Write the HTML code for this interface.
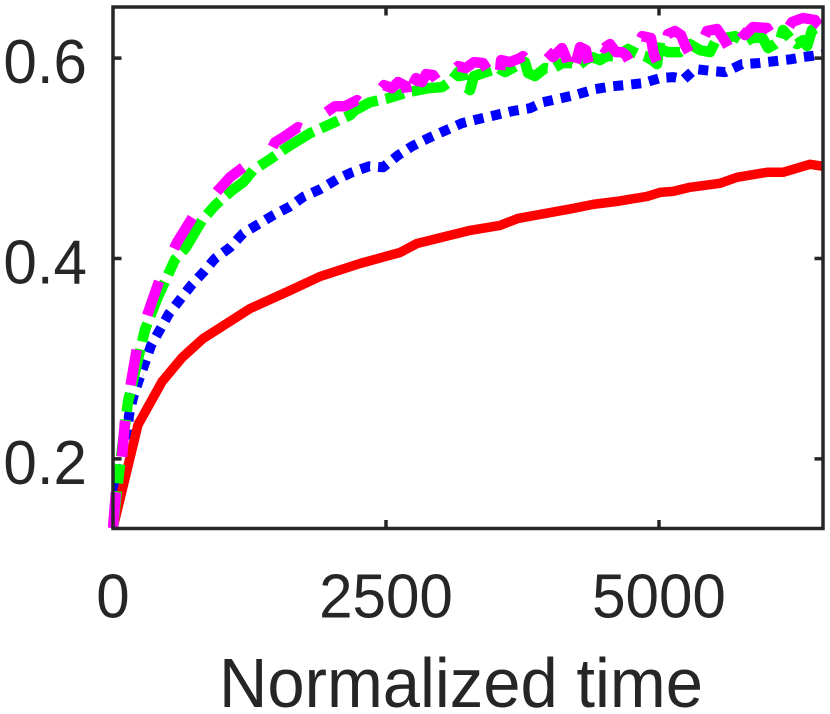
<!DOCTYPE html>
<html>
<head>
<meta charset="utf-8">
<style>
html,body{margin:0;padding:0;background:#fff;}
svg{display:block;}
text{font-family:"Liberation Sans",sans-serif;fill:#262626;}
</style>
</head>
<body>
<svg id="chart" width="830" height="714" viewBox="0 0 830 714" xmlns="http://www.w3.org/2000/svg">
<defs><clipPath id="plot-clip"><rect x="108" y="5" width="718" height="524"></rect></clipPath></defs>
<g id="series" clip-path="url(#plot-clip)"></g>
<g id="axes"></g>
<text x="461" y="707" font-size="70" text-anchor="middle" textLength="484" lengthAdjust="spacingAndGlyphs">Normalized time</text>
</svg>
<script>
const xTickValues = [0, 2500, 5000];
const xTickLabels = ["0", "2500", "5000"];
const yTickValues = [0.2, 0.4, 0.6];
const yTickLabels = ["0.2", "0.4", "0.6"];

const redTime = [0,229,449,632,824,1255,1621,1896,2262,2628,2784,3269,3544,3709,4213,4396,4616,4890,5009,5128,5284,5559,5714,5989,6136,6383,6502];
const redValue = [.131,.234,.277,.301,.320,.350,.368,.382,.395,.406,.415,.428,.433,.440,.450,.454,.457,.462,.466,.467,.471,.475,.481,.486,.486,.494,.492];

const blueTime = [0,46,128,137,146,183,238,293,348,430,513,614,723,833,934,1071,1191,1328,1465,1621,1749,1896,2051,2189,2345,2473,2610,2738,2885,3050,3196,3343,3498,3654,3819,3938,4103,4258,4414,4579,4689,4854,5009,5128,5229,5330,5495,5605,5760,5907,6063,6218,6319,6456,6502];
const blueValue = [.131,.171,.207,.226,.243,.261,.279,.296,.313,.329,.345,.359,.374,.387,.400,.411,.425,.434,.443,.452,.462,.469,.479,.486,.492,.491,.503,.512,.520,.528,.535,.539,.543,.547,.550,.556,.560,.564,.569,.572,.573,.575,.580,.581,.579,.589,.587,.586,.594,.595,.597,.599,.601,.603,.604];

const greenTime = [0,55,137,293,412,476,568,668,815,934,1090,1191,1282,1438,1594,1804,1969,2170,2216,2354,2518,2702,2885,3013,3105,3160,3205,3224,3269,3306,3388,3526,3590,3709,3773,3801,3865,3956,4020,4112,4203,4258,4323,4387,4460,4524,4625,4716,4808,4872,4936,4982,5009,5037,5083,5192,5284,5376,5467,5513,5605,5696,5788,5852,5943,5999,6063,6108,6136,6200,6264,6319,6356,6401,6456,6502];
const greenValue = [.131,.186,.257,.329,.362,.377,.399,.411,.438,.453,.468,.476,.488,.499,.511,.525,.533,.543,.548,.556,.560,.566,.570,.571,.578,.586,.582,.572,.568,.582,.585,.590,.586,.593,.596,.585,.582,.590,.589,.595,.595,.592,.598,.601,.598,.602,.602,.609,.604,.602,.598,.594,.616,.608,.606,.606,.614,.608,.606,.616,.620,.622,.616,.620,.621,.610,.614,.618,.628,.620,.614,.618,.612,.628,.630,.628];

const magentaTime = [0,27,82,110,165,220,321,430,586,751,852,962,1071,1191,1456,1484,1575,1694,1804,1941,2033,2125,2235,2335,2427,2482,2555,2610,2683,2711,2738,2775,2830,2866,2931,3013,3105,3160,3233,3306,3388,3453,3517,3544,3553,3636,3727,3755,3856,3956,4030,4112,4158,4185,4222,4231,4277,4332,4341,4368,4442,4497,4551,4606,4661,4698,4753,4808,4845,4927,4945,4955,5000,5055,5083,5147,5202,5238,5312,5394,5440,5531,5605,5660,5714,5788,5861,5989,6081,6172,6218,6319,6429,6447,6502];
const magentaValue = [.131,.166,.202,.238,.276,.311,.346,.380,.416,.445,.453,.468,.481,.491,.510,.516,.522,.531,.526,.545,.552,.552,.558,.550,.566,.573,.570,.576,.572,.552,.572,.580,.576,.584,.583,.570,.586,.592,.590,.596,.595,.584,.598,.586,.598,.596,.600,.602,.592,.609,.601,.610,.598,.584,.598,.592,.611,.608,.602,.590,.614,.610,.614,.606,.606,.603,.592,.614,.622,.620,.608,.603,.592,.614,.624,.627,.623,.613,.598,.616,.627,.629,.617,.606,.630,.623,.631,.630,.614,.628,.636,.640,.638,.635,.630];

const NS = "http://www.w3.org/2000/svg";
const plotLeft = 113, plotRight = 823, plotTop = 7, plotBottom = 528.5;
const xDomain = [0, 6502];
const yDomain = [0.1305, 0.651];
function xScale(t){ return plotLeft + (t - xDomain[0]) / (xDomain[1] - xDomain[0]) * (plotRight - plotLeft); }
function yScale(v){ return plotBottom - (v - yDomain[0]) / (yDomain[1] - yDomain[0]) * (plotBottom - plotTop); }

const seriesGroup = document.getElementById("series");
const axesGroup = document.getElementById("axes");

function pointsFor(times, values){
  return times.map(function(t, i){ return xScale(t).toFixed(1) + "," + yScale(values[i]).toFixed(1); }).join(" ");
}
function drawLine(name, times, values, color, width, dash){
  const line = document.createElementNS(NS, "polyline");
  
  
  line.setAttribute("points", pointsFor(times, values));
  line.setAttribute("fill", "none");
  line.setAttribute("stroke", color);
  line.setAttribute("stroke-width", width);
  line.setAttribute("stroke-linejoin", "round");
  if (dash) line.setAttribute("stroke-dasharray", dash);
  seriesGroup.appendChild(line);
}
drawLine("blue-dotted-series", blueTime, blueValue, "#0000ff", 10, "10 8");
drawLine("red-solid-series", redTime, redValue, "#ff0000", 9.5, null);
drawLine("green-dashdot-series", greenTime, greenValue, "#00ff00", 10.5, "37 8 19 8");
drawLine("magenta-dashed-series", magentaTime, magentaValue, "#ff00ff", 10.5, "36 36");

function addSegment(parent, x1, y1, x2, y2, width){
  const seg = document.createElementNS(NS, "line");
  seg.setAttribute("x1", x1);
  seg.setAttribute("y1", y1);
  seg.setAttribute("x2", x2);
  seg.setAttribute("y2", y2);
  seg.setAttribute("stroke", "#262626");
  seg.setAttribute("stroke-width", width);
  parent.appendChild(seg);
  return seg;
}

const frame = document.createElementNS(NS, "rect");


frame.setAttribute("x", plotLeft);
frame.setAttribute("y", plotTop);
frame.setAttribute("width", plotRight - plotLeft);
frame.setAttribute("height", plotBottom - plotTop);
frame.setAttribute("fill", "none");
frame.setAttribute("stroke", "#262626");
frame.setAttribute("stroke-width", "3.5");
axesGroup.appendChild(frame);

function narrow(label){
  label.setAttribute("textLength", (label.getComputedTextLength() * 0.97).toFixed(1));
  label.setAttribute("lengthAdjust", "spacingAndGlyphs");
}

const tickLen = 8.5;
xTickValues.forEach(function(t, i){
  const px = xScale(t);
  if (t !== 0) {
    const tb = addSegment(axesGroup, px, plotBottom, px, plotBottom - tickLen, 3.5);
    
    
    const tt = addSegment(axesGroup, px, plotTop, px, plotTop + tickLen, 3.5);
    
    
  }
  const label = document.createElementNS(NS, "text");
  
  
  label.setAttribute("x", px);
  label.setAttribute("y", 617.5);
  label.setAttribute("font-size", "62");
  label.setAttribute("text-anchor", "middle");
  label.textContent = xTickLabels[i];
  axesGroup.appendChild(label);
  narrow(label);
});
yTickValues.forEach(function(v, i){
  const py = yScale(v);
  const tl = addSegment(axesGroup, plotLeft, py, plotLeft + tickLen, py, 3.5);
  
  
  const tr = addSegment(axesGroup, plotRight, py, plotRight - tickLen, py, 3.5);
  
  
  const label = document.createElementNS(NS, "text");
  
  
  label.setAttribute("x", 87);
  label.setAttribute("y", py + 25);
  label.setAttribute("font-size", "62");
  label.setAttribute("text-anchor", "end");
  label.textContent = yTickLabels[i];
  axesGroup.appendChild(label);
  narrow(label);
});
</script>
</body>
</html>
